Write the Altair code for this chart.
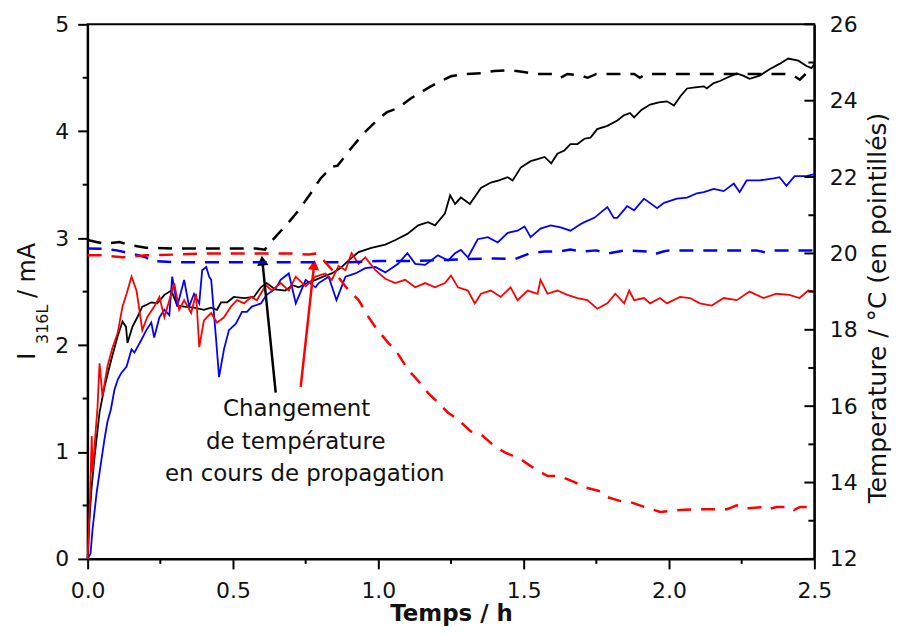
import math
import altair as alt
import pandas as pd

# ---------------- data ----------------
# current I_316L (mA) vs time (h)
black_cur = [(0.0,0.0),(0.006,0.35),(0.013,0.65),(0.024,0.96),(0.041,1.37),(0.058,1.61),(0.081,1.86),(0.103,2.08),
 (0.12,2.22),(0.132,2.17),(0.137,2.02),(0.154,2.17),(0.171,2.26),(0.188,2.36),(0.205,2.38),(0.219,2.40),(0.24,2.39),
 (0.264,2.47),(0.288,2.51),(0.308,2.37),(0.332,2.36),(0.366,2.35),(0.40,2.33),(0.424,2.35),(0.445,2.33),(0.459,2.40),
 (0.48,2.40),(0.503,2.45),(0.538,2.44),(0.572,2.45),(0.596,2.54),(0.616,2.58),(0.645,2.52),(0.68,2.51),(0.705,2.56),
 (0.726,2.54),(0.755,2.58),(0.784,2.61),(0.81,2.64),(0.84,2.67),(0.87,2.72),(0.897,2.79),(0.932,2.87),(0.976,2.91),
 (1.024,2.94),(1.057,2.98),(1.10,3.04),(1.137,3.12),(1.171,3.15),(1.195,3.12),(1.229,3.23),(1.247,3.40),(1.264,3.32),
 (1.284,3.38),(1.315,3.32),(1.353,3.47),(1.387,3.52),(1.415,3.54),(1.445,3.57),(1.462,3.54),(1.49,3.66),(1.524,3.72),
 (1.548,3.74),(1.572,3.76),(1.595,3.70),(1.616,3.79),(1.64,3.82),(1.661,3.88),(1.685,3.88),(1.709,3.93),(1.73,3.94),
 (1.753,4.02),(1.788,4.05),(1.822,4.10),(1.845,4.15),(1.866,4.17),(1.88,4.13),(1.905,4.20),(1.935,4.25),(1.965,4.27),
 (1.993,4.28),(2.017,4.24),(2.04,4.33),(2.062,4.40),(2.09,4.41),(2.12,4.42),(2.13,4.40),(2.154,4.45),(2.175,4.47),
 (2.199,4.50),(2.233,4.54),(2.255,4.52),(2.277,4.49),(2.312,4.52),(2.346,4.58),(2.38,4.63),(2.41,4.68),(2.445,4.66),
 (2.473,4.61),(2.49,4.59),(2.50,4.63)]

blue_cur = [(0.0,0.0),(0.01,0.05),(0.017,0.28),(0.031,0.62),(0.041,0.81),(0.058,1.12),(0.068,1.28),(0.08,1.40),
 (0.092,1.58),(0.104,1.68),(0.116,1.74),(0.134,1.80),(0.151,1.96),(0.161,1.93),(0.185,2.05),(0.202,2.14),(0.219,2.21),
 (0.229,2.07),(0.247,2.26),(0.264,2.33),(0.281,2.28),(0.291,2.64),(0.308,2.36),(0.332,2.61),(0.349,2.36),(0.366,2.48),
 (0.384,2.39),(0.394,2.70),(0.408,2.73),(0.418,2.64),(0.425,2.61),(0.442,2.05),(0.452,1.70),(0.469,1.96),(0.486,2.14),
 (0.51,2.20),(0.531,2.31),(0.548,2.31),(0.565,2.36),(0.596,2.39),(0.616,2.47),(0.647,2.53),(0.664,2.61),(0.692,2.67),
 (0.716,2.39),(0.75,2.61),(0.784,2.54),(0.795,2.58),(0.829,2.64),(0.856,2.42),(0.887,2.64),(0.921,2.67),(0.955,2.72),
 (0.99,2.73),(1.024,2.68),(1.068,2.76),(1.10,2.86),(1.127,2.76),(1.161,2.75),(1.205,2.84),(1.24,2.79),(1.264,2.86),
 (1.284,2.89),(1.308,2.82),(1.342,2.99),(1.377,3.01),(1.411,2.96),(1.445,3.05),(1.479,3.07),(1.503,3.11),(1.524,3.01),
 (1.558,3.09),(1.593,3.12),(1.627,3.10),(1.661,3.07),(1.695,3.13),(1.709,3.15),(1.743,3.19),(1.788,3.29),(1.81,3.19),
 (1.822,3.19),(1.856,3.30),(1.88,3.26),(1.914,3.37),(1.959,3.28),(1.983,3.33),(2.027,3.37),(2.062,3.38),(2.096,3.42),
 (2.12,3.43),(2.154,3.46),(2.188,3.44),(2.223,3.51),(2.243,3.43),(2.267,3.54),(2.312,3.54),(2.36,3.56),(2.38,3.57),
 (2.404,3.49),(2.432,3.58),(2.473,3.58),(2.50,3.60)]

red_cur = [(0.0,0.0),(0.008,0.55),(0.014,1.15),(0.017,0.81),(0.025,1.10),(0.034,1.42),(0.041,1.83),(0.051,1.52),
 (0.068,1.80),(0.086,1.98),(0.103,2.11),(0.12,2.36),(0.134,2.48),(0.151,2.64),(0.168,2.51),(0.178,2.33),(0.188,2.14),
 (0.205,2.26),(0.229,2.36),(0.247,2.45),(0.264,2.26),(0.281,2.42),(0.298,2.58),(0.315,2.33),(0.332,2.42),(0.356,2.30),
 (0.373,2.48),(0.384,1.98),(0.40,2.23),(0.425,2.30),(0.445,2.21),(0.469,2.26),(0.493,2.36),(0.514,2.42),(0.538,2.39),
 (0.562,2.45),(0.582,2.42),(0.613,2.56),(0.634,2.51),(0.664,2.58),(0.692,2.51),(0.716,2.64),(0.75,2.55),(0.784,2.64),
 (0.818,2.67),(0.84,2.61),(0.863,2.74),(0.887,2.70),(0.908,2.86),(0.932,2.76),(0.955,2.82),(0.99,2.70),(1.024,2.62),
 (1.058,2.58),(1.092,2.61),(1.127,2.54),(1.161,2.58),(1.195,2.54),(1.229,2.58),(1.25,2.65),(1.274,2.54),(1.308,2.51),
 (1.332,2.39),(1.353,2.48),(1.387,2.51),(1.421,2.45),(1.455,2.54),(1.479,2.42),(1.514,2.51),(1.548,2.48),(1.558,2.61),
 (1.582,2.48),(1.616,2.51),(1.65,2.47),(1.685,2.44),(1.719,2.42),(1.753,2.34),(1.788,2.39),(1.815,2.48),(1.846,2.39),
 (1.863,2.51),(1.88,2.42),(1.914,2.44),(1.935,2.39),(1.969,2.44),(1.993,2.39),(2.038,2.45),(2.072,2.44),(2.106,2.39),
 (2.147,2.37),(2.188,2.44),(2.233,2.42),(2.277,2.50),(2.325,2.44),(2.37,2.48),(2.414,2.47),(2.449,2.44),(2.479,2.51),
 (2.50,2.50)]

# temperature (°C) vs time (h), dashed curves
black_temp = [(0.0,20.35),(0.03,20.3),(0.06,20.25),(0.11,20.3),(0.13,20.25),(0.16,20.2),(0.2,20.15),(0.3,20.13),
 (0.4,20.13),(0.5,20.13),(0.58,20.13),(0.61,20.1),(0.63,20.3),(0.66,20.55),(0.69,20.8),(0.726,21.13),(0.767,21.57),
 (0.80,21.95),(0.84,22.27),(0.86,22.3),(0.908,22.77),(0.95,23.15),(1.0,23.52),(1.03,23.7),(1.068,23.81),(1.11,24.05),
 (1.17,24.33),(1.21,24.5),(1.25,24.64),(1.3,24.7),(1.353,24.72),(1.40,24.78),(1.455,24.8),(1.5,24.75),(1.537,24.7),
 (1.6,24.7),(1.627,24.6),(1.65,24.7),(1.7,24.65),(1.72,24.6),(1.75,24.7),(1.822,24.7),(1.88,24.7),(1.90,24.6),
 (1.92,24.7),(2.0,24.7),(2.1,24.7),(2.2,24.7),(2.3,24.7),(2.4,24.7),(2.43,24.65),(2.45,24.55),(2.47,24.7),(2.5,24.7)]

blue_temp = [(0.0,20.13),(0.05,20.12),(0.1,20.08),(0.15,20.0),(0.2,19.9),(0.22,19.8),(0.3,19.77),(0.4,19.77),
 (0.5,19.77),(0.6,19.77),(0.7,19.77),(0.8,19.77),(0.9,19.77),(1.0,19.8),(1.1,19.8),(1.2,19.82),(1.3,19.85),
 (1.4,19.87),(1.47,19.85),(1.52,20.0),(1.57,20.05),(1.62,20.05),(1.66,20.1),(1.7,20.05),(1.75,20.08),(1.79,20.0),
 (1.85,20.08),(1.93,20.05),(1.95,19.98),(1.98,20.05),(2.0,20.08),(2.1,20.08),(2.2,20.08),(2.3,20.08),(2.33,20.03),
 (2.36,20.08),(2.5,20.08)]

red_temp = [(0.0,19.95),(0.05,19.95),(0.12,19.9),(0.2,19.95),(0.3,19.97),(0.4,20.0),(0.5,20.0),(0.6,20.0),(0.7,20.0),
 (0.76,19.97),(0.79,20.0),(0.82,19.75),(0.86,19.4),(0.897,19.04),(0.932,18.78),(0.966,18.34),(0.99,18.07),
 (1.034,17.66),(1.058,17.48),(1.103,16.95),(1.127,16.75),(1.171,16.35),(1.195,16.17),(1.24,15.83),(1.274,15.65),
 (1.318,15.34),(1.353,15.26),(1.40,14.95),(1.435,14.79),(1.49,14.61),(1.524,14.43),(1.582,14.17),(1.623,14.17),
 (1.675,14.01),(1.709,13.88),(1.764,13.77),(1.788,13.62),(1.83,13.52),(1.866,13.49),(1.92,13.35),(1.969,13.23),
 (2.0,13.25),(2.038,13.28),(2.1,13.3),(2.154,13.3),(2.2,13.3),(2.233,13.4),(2.26,13.32),(2.325,13.36),(2.34,13.3),
 (2.37,13.36),(2.414,13.36),(2.43,13.28),(2.45,13.36),(2.5,13.36)]

series_names = ["noir", "bleu", "rouge"]
series_colors = ["#000000", "#0000ff", "#ff0000"]

x_major = [0.0, 0.5, 1.0, 1.5, 2.0, 2.5]
x_minor = [0.25, 0.75, 1.25, 1.75, 2.25]
i_major = [0, 1, 2, 3, 4, 5]
i_minor = [0.5, 1.5, 2.5, 3.5, 4.5]
t_major = [12, 14, 16, 18, 20, 22, 24, 26]
t_minor = [13, 15, 17, 19, 21, 23, 25]

note_lines = ["Changement", "de température", "en cours de propagation"]
note_t = [0.719, 0.716, 0.747]
note_i = [1.40, 1.09, 0.79]

# arrows: tail (t, I) -> head (t, I)
arrow_names = ["noir", "rouge"]
arrow_tail_t = [0.647, 0.733]
arrow_tail_i = [1.555, 1.61]
arrow_head_t = [0.601, 0.779]
arrow_head_i = [2.79, 2.75]

# ---------------- build tables ----------------
W, H = 730, 537
cur_rows, temp_rows = [], []
for name, pts in zip(series_names, [black_cur, blue_cur, red_cur]):
    cur_rows += [{"t": a, "v": b, "s": name} for a, b in pts]
for name, pts in zip(series_names, [black_temp, blue_temp, red_temp]):
    temp_rows += [{"t": a, "v": b, "s": name} for a, b in pts]
cur_df = pd.DataFrame(cur_rows)
temp_df = pd.DataFrame(temp_rows)

arr_df = pd.DataFrame({"s": arrow_names, "t": arrow_tail_t, "v": arrow_tail_i,
                       "t2": arrow_head_t, "v2": arrow_head_i})
arr_df["ang"] = [math.degrees(math.atan2((b - a) * W / 2.5, (d - c) * H / 5.0))
                 for a, b, c, d in zip(arrow_tail_t, arrow_head_t, arrow_tail_i, arrow_head_i)]
note_df = pd.DataFrame({"txt": note_lines, "t": note_t, "v": note_i})

FONT = "DejaVu Sans"
xscale = alt.Scale(domain=[0, 2.5], nice=False, zero=False)
iscale = alt.Scale(domain=[0, 5], nice=False, zero=False)
tscale = alt.Scale(domain=[12, 26], nice=False, zero=False)
cscale = alt.Scale(domain=series_names, range=series_colors)

xaxis = alt.Axis(values=x_major, format=".1f", tickSize=10, tickWidth=2, domainWidth=2,
                 domainColor="black", tickColor="black", labelFontSize=22, labelColor="#111",
                 labelFont=FONT, labelPadding=12, labelFlush=False, labelOverlap=False,
                 title="Temps / h", titleFont=FONT, titleFontSize=23, titleFontWeight="bold",
                 titleColor="#111", titlePadding=1, grid=False)
iaxis = alt.Axis(values=i_major, format="d", tickSize=10, tickWidth=2, domainWidth=2,
                 domainColor="black", tickColor="black", labelFontSize=22, labelColor="#111",
                 labelFont=FONT, labelPadding=9, labelOverlap=False, title=None, grid=False)
taxis = alt.Axis(values=t_major, format="d", orient="right", ticks=True, tickSize=10,
                 tickColor="transparent", domainWidth=2, domainColor="black", labelFontSize=22,
                 labelColor="#111", labelFont=FONT, labelPadding=5, labelOverlap=False,
                 title=None, grid=False)

X = alt.X("t:Q", scale=xscale, axis=xaxis)
YI = alt.Y("v:Q", scale=iscale, axis=iaxis)
YT = alt.Y("v:Q", scale=tscale, axis=taxis)
COL = alt.Color("s:N", scale=cscale, legend=None)

cur_lines = alt.Chart(cur_df).mark_line(strokeWidth=1.8).encode(x=X, y=YI, color=COL, detail="s:N")

xminor = alt.Chart(pd.DataFrame({"t": x_minor})).mark_rule(color="black", strokeWidth=2).encode(
    x=X, y=alt.value(H), y2=alt.value(H + 5))
iminor = alt.Chart(pd.DataFrame({"v": i_minor})).mark_rule(color="black", strokeWidth=2).encode(
    y=YI, x=alt.value(-5), x2=alt.value(0))

arrow_lines = alt.Chart(arr_df).mark_rule(strokeWidth=2.5).encode(
    x=X, y=YI, x2="t2:Q", y2="v2:Q", color=COL)
arrow_heads = alt.Chart(arr_df).mark_point(shape="triangle-up", filled=True, size=130, opacity=1).encode(
    x=alt.X("t2:Q", scale=xscale, axis=xaxis), y=alt.Y("v2:Q", scale=iscale, axis=iaxis),
    angle=alt.Angle("ang:Q", scale=None), color=COL)

notes = alt.Chart(note_df).mark_text(font=FONT, fontSize=23, color="#111", align="center",
                                     baseline="middle").encode(x=X, y=YI, text="txt:N")

ylab_main = alt.Chart(pd.DataFrame({"txt": ["I"]})).mark_text(
    font=FONT, fontSize=24, angle=270, align="left", baseline="alphabetic", color="#111").encode(
    x=alt.value(-53), y=alt.value(337), text="txt:N")
ylab_sub = alt.Chart(pd.DataFrame({"txt": ["316L"]})).mark_text(
    font=FONT, fontSize=16, angle=270, align="left", baseline="alphabetic", color="#111").encode(
    x=alt.value(-40), y=alt.value(321), text="txt:N")
ylab_unit = alt.Chart(pd.DataFrame({"txt": ["/ mA"]})).mark_text(
    font=FONT, fontSize=24, angle=270, align="left", baseline="alphabetic", color="#111").encode(
    x=alt.value(-53), y=alt.value(275), text="txt:N")

left = alt.layer(cur_lines, xminor, iminor, arrow_lines, arrow_heads, notes,
                 ylab_main, ylab_sub, ylab_unit)

temp_lines = alt.Chart(temp_df).mark_line(strokeWidth=2.5, strokeDash=[14, 10]).encode(
    x=X, y=YT, color=COL, detail="s:N")
tmaj = alt.Chart(pd.DataFrame({"v": t_major})).mark_rule(color="black", strokeWidth=2).encode(
    y=YT, x=alt.value(W - 10), x2=alt.value(W))
tmin = alt.Chart(pd.DataFrame({"v": t_minor})).mark_rule(color="black", strokeWidth=2).encode(
    y=YT, x=alt.value(W - 6), x2=alt.value(W))
rtitle = alt.Chart(pd.DataFrame({"txt": ["Temperature / °C (en pointillés)"]})).mark_text(
    font=FONT, fontSize=25, angle=270, align="center", baseline="alphabetic", color="#111").encode(
    x=alt.value(802), y=alt.value(285), text="txt:N")

right = alt.layer(temp_lines, tmaj, tmin, rtitle)

chart = alt.layer(left, right).resolve_scale(y="independent").properties(
    width=W, height=H,
    autosize=alt.AutoSizeParams(type="none"),
    padding={"left": 80, "top": 15, "right": 78, "bottom": 69},
).configure(font=FONT).configure_view(stroke="black", strokeWidth=2)

chart.save("out.html", embed_options={"renderer": "svg", "actions": False})
